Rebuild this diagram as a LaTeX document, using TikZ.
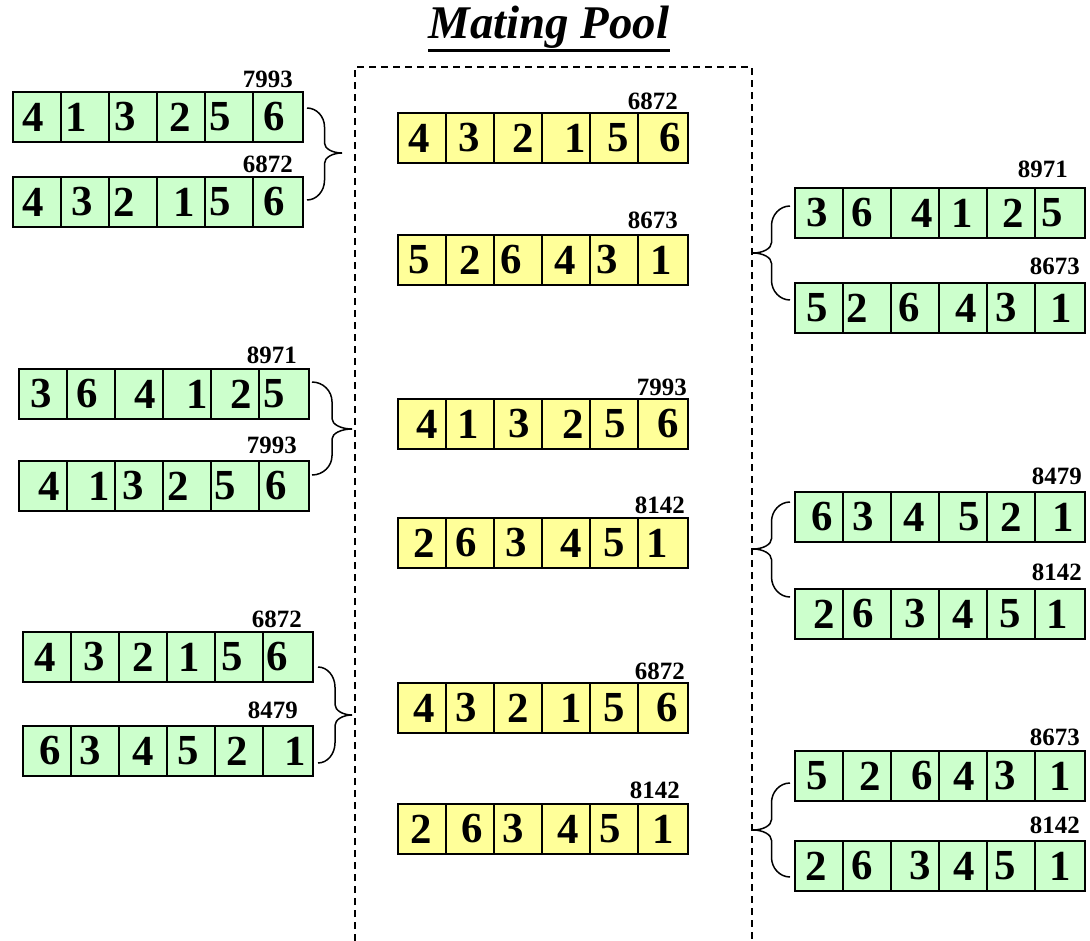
\documentclass[tikz,border=0pt]{standalone}
\usepackage{fontspec}
\setmainfont{Liberation Serif}
\usetikzlibrary{calc}
\definecolor{cgreen}{RGB}{204,255,204}
\definecolor{cyellow}{RGB}{255,255,153}
\tikzset{
  cellbox/.style={draw=black, line width=1.8bp, inner sep=0pt, outer sep=0pt},
  gcell/.style={cellbox, fill=cgreen},
  ycell/.style={cellbox, fill=cyellow},
  digit/.style={inner sep=0pt, font=\fontsize{43}{43}\selectfont\bfseries},
  fitlbl/.style={inner sep=0pt, font=\fontsize{25}{25}\selectfont\bfseries},
  brc/.style={draw=black, line width=1.5bp},
  pool/.style={draw=black, line width=2bp, dash pattern=on 7bp off 5bp},
  titlestyle/.style={inner sep=0pt, font=\fontsize{47}{47}\selectfont\bfseries\itshape},
}
% #1 name, #2 x left, #3 y top, #4 cell style, #5 digit/offset list,
% #6 label, #7 label gap from right edge, #8 label gap above row
\newcommand\chrom[8]{%
  \foreach \d/\o [count=\i] in {#5} {
    \node[#4, minimum width={(\i==6 ? 50 : 48)*1bp}, minimum height=50bp, anchor=north west]
      (#1-\i) at ({#2+(\i-1)*48}, #3) {};
    \node[digit] (#1-\i-d) at ([xshift=\o bp]#1-\i.center) {\d};
  }
  \node[fitlbl, anchor=base east] (#1-lbl) at (#2+290-#7, #3-#8) {#6};
}
% curly brace from #1 (top end) to #2 (bottom end) with tip at #3
\newcommand\curlybrace[3]{%
  \draw[brc] let \p1=(#1), \p2=(#2), \p3=(#3),
    \n1={0.5*\x1+0.5*\x3},
    \n2={\y1+0.42*(\y3-\y1)}, \n3={\y1+0.78*(\y3-\y1)},
    \n4={\y2+0.42*(\y3-\y2)}, \n5={\y2+0.78*(\y3-\y2)},
    \n6={\x1+0.55*(\n1-\x1)}, \n7={\n2-0.55*(\n2-\y1)},
    \n8={\n3+0.55*(\y3-\n3)}, \n9={\x3-0.55*(\x3-\n1)},
    \n{c}={\n5+0.55*(\y3-\n5)}, \n{d}={\n4-0.55*(\n4-\y2)},
    \n{e}={\x2+0.55*(\n1-\x2)} in
    (\p1) .. controls ({\n6*1pt},\y1) and ({\n1*1pt},{\n7*1pt}) .. ({\n1*1pt},{\n2*1pt})
    -- ({\n1*1pt},{\n3*1pt})
    .. controls ({\n1*1pt},{\n8*1pt}) and ({\n9*1pt},\y3) .. (\p3)
    .. controls ({\n9*1pt},\y3) and ({\n1*1pt},{\n{c}*1pt}) .. ({\n1*1pt},{\n5*1pt})
    -- ({\n1*1pt},{\n4*1pt})
    .. controls ({\n1*1pt},{\n{d}*1pt}) and ({\n{e}*1pt},\y2) .. (\p2);%
}
\begin{document}
\begin{tikzpicture}[x=1bp, y=-1bp]
\useasboundingbox (0,0) rectangle (1090,941);
\fill[white] (0,0) rectangle (1090,941);

% title
\node[titlestyle, anchor=base] (title) at (549,38) {Mating Pool};
\draw[line width=3bp] ([yshift=-12bp]title.base west) -- ([yshift=-12bp]title.base east);

% mating pool border
\coordinate (pBL) at (355,941);
\coordinate (pTL) at (355,67);
\coordinate (pTR) at (752,67);
\coordinate (pBR) at (752,941);
\draw[pool] (pBL) -- (pTL) -- (pTR) -- (pBR);

% middle column (mating pool)
\chrom{M1}{398}{113}{ycell}{4/-3,3/-1,2/5,1/9,5/4,6/7}{6872}{10}{4}
\chrom{M2}{398}{235}{ycell}{5/-3,2/0,6/-7,4/-1,3/-7,1/-2}{8673}{10}{7}
\chrom{M3}{398}{399}{ycell}{4/5,1/-2,3/1,2/7,5/1,6/5}{7993}{1}{4}
\chrom{M4}{398}{518}{ycell}{2/2,6/-4,3/-2,4/5,5/0,1/-6}{8142}{3}{5}
\chrom{M5}{398}{683}{ycell}{4/2,3/-4,2/0,1/5,5/0,6/4}{6872}{3}{4}
\chrom{M6}{398}{804}{ycell}{2/-1,6/2,3/-5,4/2,5/-4,1/0}{8142}{8}{6}

% left column
\chrom{L1a}{13}{92}{gcell}{4/-4,1/-9,3/-8,2/-1,5/-9,6/-4}{7993}{10}{5}
\chrom{L1b}{13}{177}{gcell}{4/-4,3/-3,2/-9,1/3,5/-9,6/-4}{6872}{10}{5}
\chrom{L2a}{19}{369}{gcell}{3/-2,6/-4,4/6,1/10,2/6,5/-10}{8971}{12}{6}
\chrom{L2b}{19}{461}{gcell}{4/6,1/8,3/-6,2/-9,5/-10,6/-8}{7993}{12}{8}
\chrom{L3a}{23}{632}{gcell}{4/-2,3/-1,2/0,1/-2,5/-7,6/-11}{6872}{11}{5}
\chrom{L3b}{23}{726}{gcell}{6/3,3/-5,4/0,5/-3,2/-2,1/7}{8479}{15}{8}

% right column
\chrom{R1a}{795}{188}{gcell}{3/-2,6/-5,4/7,1/-1,2/2,5/-8}{8971}{17}{11}
\chrom{R1b}{795}{283}{gcell}{5/-2,2/-10,6/-6,4/3,3/-5,1/1}{8673}{5}{9}
\chrom{R2a}{795}{492}{gcell}{6/3,3/-4,4/-1,5/6,2/0,1/3}{8479}{3}{8}
\chrom{R2b}{795}{589}{gcell}{2/5,6/-4,3/0,4/0,5/-1,1/-3}{8142}{3}{9}
\chrom{R3a}{795}{751}{gcell}{5/-2,2/3,6/7,4/1,3/-6,1/0}{8673}{5}{6}
\chrom{R3b}{795}{841}{gcell}{2/-3,6/-5,3/5,4/1,5/-6,1/0}{8142}{5}{8}

% brace tips
\coordinate (tL1) at (342,153);
\coordinate (tL2) at (352,429);
\coordinate (tL3) at (352,715);
\coordinate (tR1) at (753,253);
\coordinate (tR2) at (753,549);
\coordinate (tR3) at (753,830);

% braces
\curlybrace{[xshift=4bp,yshift=9bp]L1a-6.east}{[xshift=4bp,yshift=2bp]L1b-6.east}{tL1}
\curlybrace{[xshift=3bp,yshift=12bp]L2a-6.east}{[xshift=3bp,yshift=11bp]L2b-6.east}{tL2}
\curlybrace{[xshift=5bp,yshift=-10bp]L3a-6.east}{[xshift=5bp,yshift=-12bp]L3b-6.east}{tL3}
\curlybrace{[xshift=-5bp,yshift=7bp]R1a-1.west}{[xshift=-5bp,yshift=8bp]R1b-1.west}{tR1}
\curlybrace{[xshift=-5bp,yshift=15bp]R2a-1.west}{[xshift=-5bp,yshift=17bp]R2b-1.west}{tR2}
\curlybrace{[xshift=-5bp,yshift=-7bp]R3a-1.west}{[xshift=-5bp,yshift=-11bp]R3b-1.west}{tR3}
\end{tikzpicture}
\end{document}
